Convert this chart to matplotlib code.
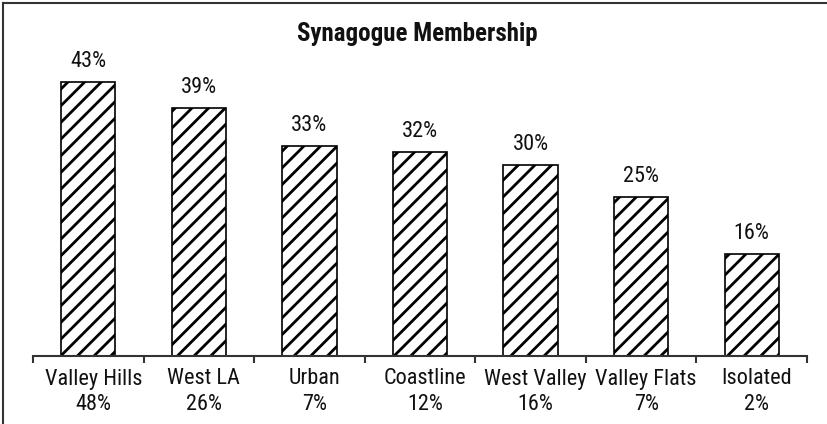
import matplotlib.pyplot as plt
import matplotlib.transforms as mtransforms
from matplotlib.lines import Line2D

# =========================================================
# SYNAGOGUE MEMBERSHIP BY REGION
# =========================================================

regions = ["Valley Hills", "West LA", "Urban", "Coastline",
           "West Valley", "Valley Flats", "Isolated"]
region_share = ["48%", "26%", "7%", "12%", "16%", "7%", "2%"]
membership = [43, 39, 33, 32, 30, 25, 16]

plt.rcParams["font.family"] = ["Roboto Condensed", "Archivo Narrow",
                               "PT Sans Narrow", "Liberation Sans Narrow",
                               "DejaVu Sans"]
plt.rcParams["hatch.linewidth"] = 2.0

fig = plt.figure(figsize=(8.28, 4.24), dpi=100)
ax = fig.add_axes([33 / 828, 68 / 424, 774 / 828, 318.5 / 424])

x = list(range(len(regions)))
bars = ax.bar(x, membership, width=0.49, color="white",
              edgecolor="black", linewidth=1.2, hatch="//")

for xi, v in zip(x, membership):
    ax.annotate(f"{v}%", (xi, v), xytext=(0, 7), textcoords="offset points",
                ha="center", va="bottom", fontsize=16, color="#111111")

ax.set_xlim(-0.5, len(regions) - 0.5)
ax.set_ylim(0, 50)

for side in ["top", "right", "left"]:
    ax.spines[side].set_visible(False)
ax.spines["bottom"].set_color("#333333")
ax.spines["bottom"].set_linewidth(1.5)
ax.set_yticks([])

ax.set_xticks(x)
ax.set_xticklabels([f"{r}\n{s}" for r, s in zip(regions, region_share)],
                   fontsize=16, linespacing=1.3, color="#111111")
ax.tick_params(axis="x", which="major", length=0, pad=9)
ax.set_xticks([i - 0.5 for i in range(len(regions) + 1)], minor=True)
ax.tick_params(axis="x", which="minor", length=5, width=1.5,
               color="#333333", direction="out")

# labels in the source sit a little right of the bar centres
shift = mtransforms.ScaledTranslation(5 / 100, 0, fig.dpi_scale_trans)
for lbl in ax.get_xticklabels():
    lbl.set_transform(lbl.get_transform() + shift)

fig.text(417 / 828, 1 - 34 / 424, "Synagogue Membership",
         ha="center", va="center", fontsize=18, fontweight="bold",
         color="#111111")

# outer frame (left and top edges visible)
fig.add_artist(Line2D([3 / 828, 3 / 828], [0, 1 - 3 / 424],
                      transform=fig.transFigure, color="#333333", lw=1.5))
fig.add_artist(Line2D([3 / 828, 1], [1 - 3 / 424, 1 - 3 / 424],
                      transform=fig.transFigure, color="#333333", lw=1.5))

fig.savefig("out.png", dpi=100)
